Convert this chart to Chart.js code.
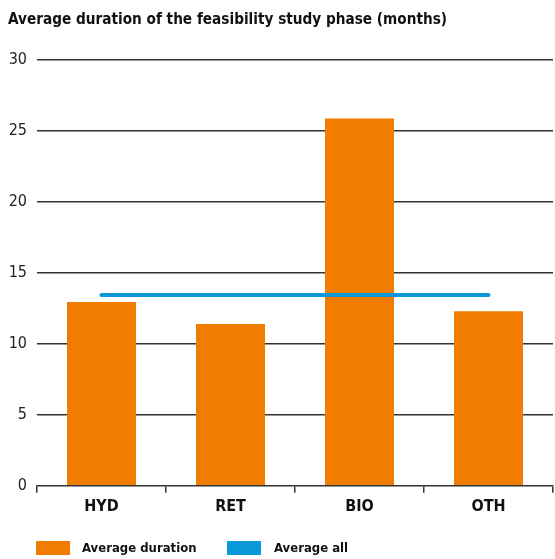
<!DOCTYPE html>
<html>
<head>
<meta charset="utf-8">
<script src="https://cdn.jsdelivr.net/npm/chart.js@4"></script>
<style>
  html, body { margin: 0; padding: 0; background: #fff; }
  #wrap { width: 555px; height: 559px; position: relative; }
  .legend { position: absolute; top: 539px; left: 0; font: bold 13px "DejaVu Sans Condensed", "Roboto", sans-serif; color: #111; }
  .legend span { position: absolute; white-space: nowrap; line-height: 18px; }
  .legend i { position: absolute; top: 2px; width: 34px; height: 14px; }
</style>
</head>
<body>
<div id="wrap">
  <canvas id="chart"></canvas>
  <div class="legend" id="legend"></div>
</div>
<script>
// data
const categories = ["HYD", "RET", "BIO", "OTH"];
const avgDuration = [12.95, 11.4, 25.9, 12.3];
const avgAll = [13.45, 13.45, 13.45, 13.45];
const yTicks = [0, 5, 10, 15, 20, 25, 30];

const FONT = '"Liberation Sans Narrow", "DejaVu Sans Condensed", "Roboto", sans-serif';
const ORANGE = "#f07d00";
const BLUE = "#0a99d8";

const ctx = document.getElementById("chart").getContext("2d");

const chart = new Chart(ctx, {
  type: "bar",
  data: {
    labels: categories,
    datasets: [
      {
        type: "line",
        label: "Average all",
        data: avgAll,
        borderColor: BLUE,
        backgroundColor: BLUE,
        borderWidth: 4,
        borderCapStyle: "round",
        pointRadius: 0,
        fill: false,
        order: 0,
      },
      {
        label: "Average duration",
        data: avgDuration,
        backgroundColor: ORANGE,
        barPercentage: 0.535,
        categoryPercentage: 1,
        order: 1,
      },
    ],
  },
  options: {
    responsive: true,
    maintainAspectRatio: false,
    animation: false,
    layout: { padding: { left: 8, right: 2, top: 0, bottom: 39 } },
    scales: {
      x: {
        grid: {
          drawOnChartArea: false,
          drawTicks: true,
          tickLength: 7,
          color: "#333",
          lineWidth: 1.5,
        },
        border: { display: true, color: "#333", width: 1.5 },
        ticks: {
          color: "#111",
          font: { family: FONT, size: 16, weight: "bold" },
          padding: 4,
        },
      },
      y: {
        min: 0,
        max: 30,
        afterBuildTicks: (axis) => {
          axis.ticks = yTicks.map((v) => ({ value: v }));
        },
        afterFit: (axis) => {
          axis.width = 29;
        },
        grid: {
          drawTicks: false,
          color: (c) => (c.tick && c.tick.value === 0 ? "rgba(0,0,0,0)" : "#333"),
          lineWidth: 1.5,
        },
        border: { display: false },
        ticks: {
          color: "#222",
          font: { family: FONT, size: 16 },
          padding: 10,
        },
      },
    },
    plugins: {
      title: {
        display: true,
        text: "Average duration of the feasibility study phase (months)",
        align: "start",
        color: "#111",
        font: { family: FONT, size: 15.2, weight: "bold" },
        padding: { top: 11, bottom: 31 },
      },
      legend: { display: false },
      tooltip: { enabled: false },
    },
  },
});

// legend under the axis, built from the datasets
const legendItems = [
  { label: chart.data.datasets[1].label, color: ORANGE, box: 36, text: 82 },
  { label: chart.data.datasets[0].label, color: BLUE, box: 227, text: 274 },
];
const legend = document.getElementById("legend");
legendItems.forEach((it) => {
  const box = document.createElement("i");
  box.style.left = it.box + "px";
  box.style.background = it.color;
  const txt = document.createElement("span");
  txt.style.left = it.text + "px";
  txt.textContent = it.label;
  legend.appendChild(box);
  legend.appendChild(txt);
});
</script>
</body>
</html>
